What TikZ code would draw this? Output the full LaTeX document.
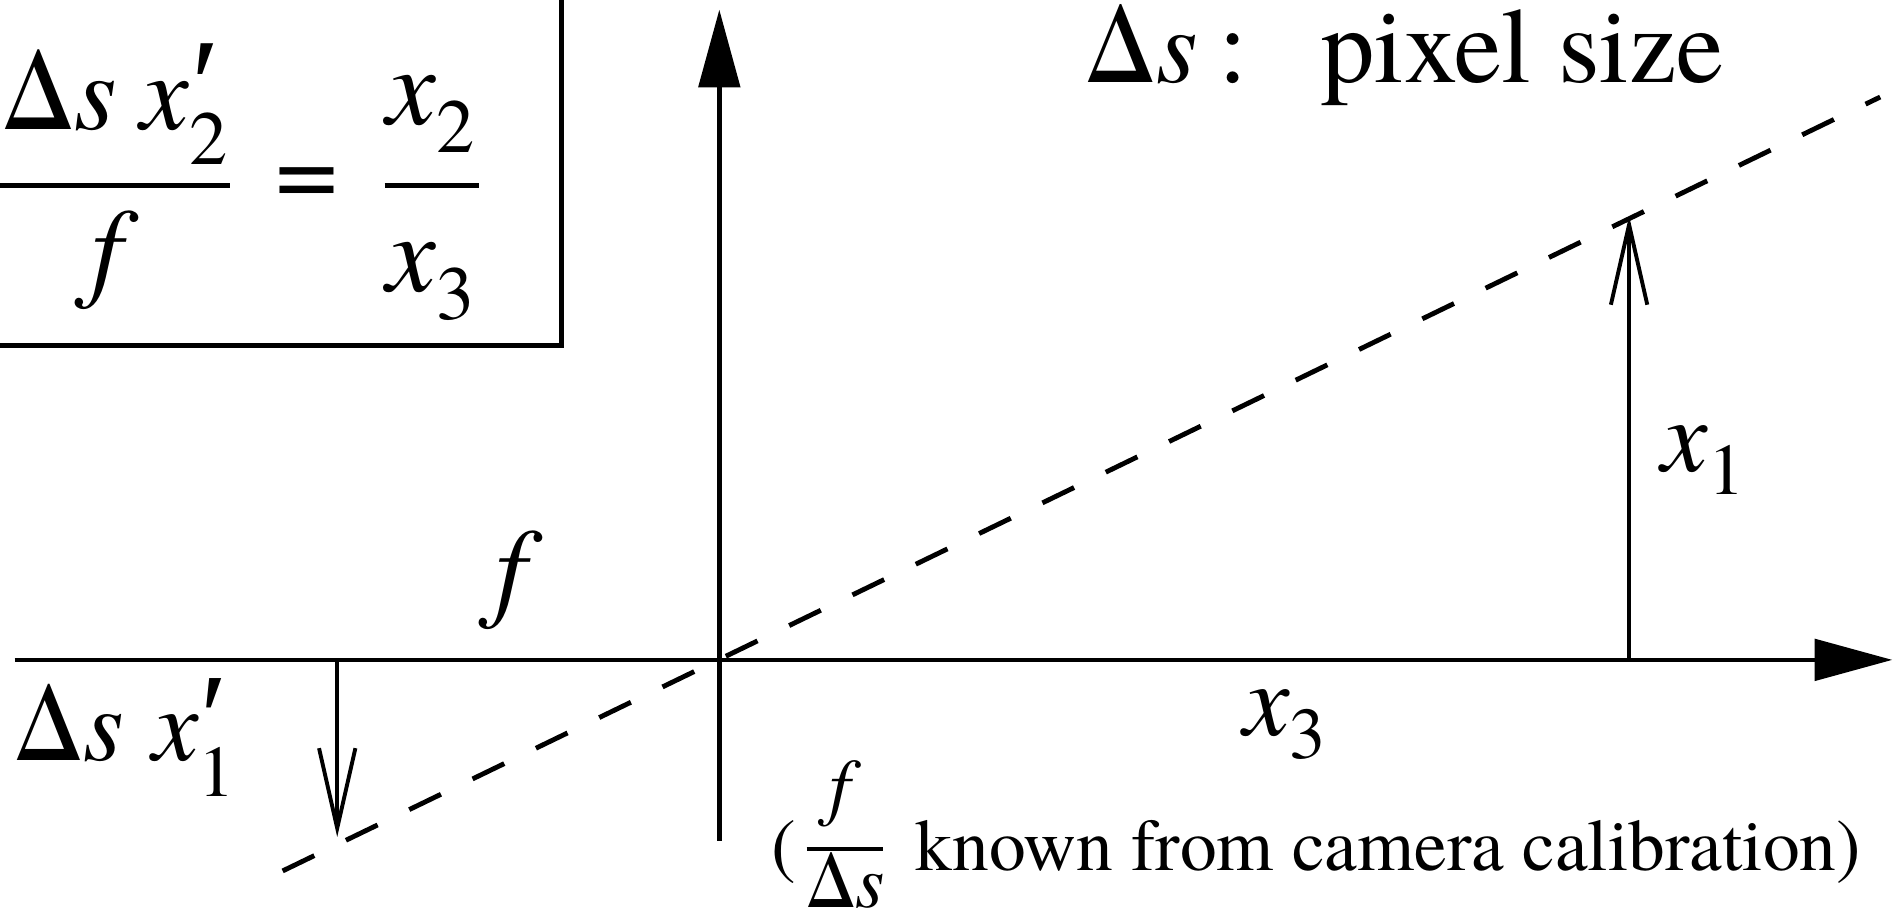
\documentclass[tikz,border=0pt]{standalone}
\usepackage{fontspec}
\setmainfont{TeX Gyre Termes}
\newfontfamily\primefont{Liberation Serif}
\usetikzlibrary{arrows.meta}
\newcommand{\fs}[1]{\fontsize{#1}{#1}\selectfont}
\newcommand{\ix}{\textit{x}}
\newcommand{\is}{\textit{s}}
\newcommand{\pr}{\rlap{\kern0.02em{\primefont\fontsize{1.2em}{1.2em}\selectfont ′}}}
\begin{document}
\begin{tikzpicture}[x=1pt,y=-1pt,
  lbl/.style={inner sep=0pt, outer sep=0pt},
  axisline/.style={line width=3.6pt, -{Triangle[length=64pt,width=34pt]}},
  vecline/.style={line width=3.2pt, -{Straight Barb[length=66pt,width=30pt]}},
  rayline/.style={line width=4pt, dash pattern=on 29pt off 29pt},
  barline/.style={line width=4.2pt},
  boxline/.style={line width=3.8pt}]
\useasboundingbox (0,0) rectangle (1568,760);

% formula box
\coordinate (boxtop) at (463,0);
\coordinate (boxcorner) at (463,285);
\coordinate (boxleft) at (0,285);
\draw[boxline] (boxtop) -- (boxcorner) -- (boxleft);

\node[lbl, anchor=base west] (num) at (2,107)
  {\fs{90}Δ\is\kern0.22em\ix\pr\raisebox{-0.32em}{\fs{63}2}};
\coordinate (barAl) at (0,153);
\coordinate (barAr) at (190,153);
\draw[barline] (barAl) -- (barAr);
\node[lbl, anchor=base] (den) at (95,236) {\fs{92}\textit{f}};
\node[lbl] (eq) at (253,155) {\fs{92}=};
\node[lbl, anchor=base] (rnum) at (355,103) {\fs{92}\ix\raisebox{-0.25em}{\fs{63}2}};
\coordinate (barBl) at (317,153);
\coordinate (barBr) at (395,153);
\draw[barline] (barBl) -- (barBr);
\node[lbl, anchor=base] (rden) at (355,240) {\fs{92}\ix\raisebox{-0.25em}{\fs{63}3}};

% pixel size legend
\node[lbl, anchor=base west] (legend) at (895,68)
  {\fs{88}Δ\is\kern0.2em:\kern0.68em pixel size};

% axes
\coordinate (O) at (593,544);
\coordinate (hstart) at (12,544);
\coordinate (hend) at (1560,544);
\coordinate (vstart) at (593,693);
\coordinate (vend) at (593,8);
\draw[axisline] (hstart) -- (hend);
\draw[axisline] (vstart) -- (vend);

% ray
\coordinate (rayA) at (233,718);
\coordinate (rayB) at (1550,80);
\draw[rayline] (rayA) -- (rayB);

% object and image arrows
\coordinate (objbase) at (1343,544);
\coordinate (objtip) at (1343,178);
\draw[vecline] (objbase) -- (objtip);
\coordinate (imgbase) at (278,544);
\coordinate (imgtip) at (278,690);
\draw[vecline] (imgbase) -- (imgtip);

% labels
\node[lbl, anchor=base] (flbl) at (428,500) {\fs{92}\textit{f}};
\node[lbl, anchor=base west] (x3lbl) at (1025,606) {\fs{86}\ix\raisebox{-0.22em}{\fs{60}3}};
\node[lbl, anchor=base west] (x1lbl) at (1370,389) {\fs{86}\ix\raisebox{-0.22em}{\fs{60}1}};
\node[lbl, anchor=base west] (imglbl) at (12,627)
  {\fs{86}Δ\is\kern0.27em\ix\pr\raisebox{-0.34em}{\fs{60}1}};

% calibration note
\node[lbl, anchor=base west] (lpar) at (636,718) {\fs{61}(};
\node[lbl, anchor=base] (cf) at (697,669) {\fs{62}\textit{f}};
\coordinate (barCl) at (665,700);
\coordinate (barCr) at (728,700);
\draw[line width=3.2pt] (barCl) -- (barCr);
\node[lbl, anchor=base] (cds) at (697,748) {\fs{62}Δ\is};
\node[lbl, anchor=base west] (note) at (755,718) {\fs{60.5}known from camera calibration)};
\end{tikzpicture}
\end{document}
